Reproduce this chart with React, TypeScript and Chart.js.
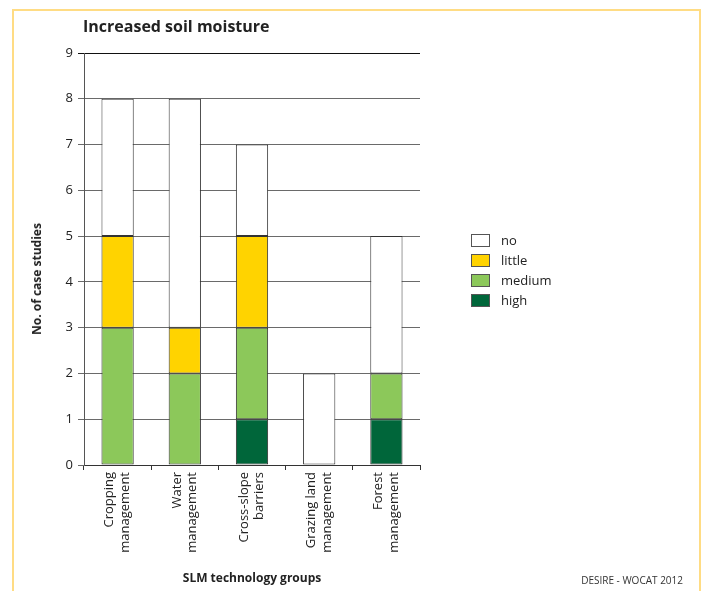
import React, { useEffect, useRef } from "react";
import { Chart, registerables } from "chart.js";

Chart.register(...registerables);

// ---- data ----
const categories: string[][] = [
  ["Cropping", "management"],
  ["Water", "management"],
  ["Cross-slope", "barriers"],
  ["Grazing land", "management"],
  ["Forest", "management"],
];
const seriesNames = ["high", "medium", "little", "no"];
const highValues = [0, 0, 1, 0, 1];
const mediumValues = [3, 2, 2, 0, 1];
const littleValues = [2, 1, 2, 0, 0];
const noValues = [3, 5, 2, 2, 3];
const seriesColors = ["#00663A", "#8CC85A", "#FFD300", "#FFFFFF"];
const yMax = 9;

const titleText = "Increased soil moisture";
const yTitle = "No. of case studies";
const xTitle = "SLM technology groups";
const sourceText = "DESIRE - WOCAT 2012";

const FONT = "'Open Sans', 'Noto Sans', sans-serif";

export default function App() {
  const ref = useRef<HTMLCanvasElement | null>(null);

  useEffect(() => {
    if (!ref.current) return;
    const values = [highValues, mediumValues, littleValues, noValues];
    const chart = new Chart(ref.current, {
      type: "bar",
      data: {
        labels: categories,
        datasets: seriesNames.map((name, i) => ({
          label: name,
          // zero-height segments are left out so they draw no border line
          data: values[i].map((v) => (v === 0 ? null : v)),
          backgroundColor: seriesColors[i],
          borderColor: "#333333",
          borderWidth: 1,
          borderSkipped: false,
          barPercentage: 0.48,
          categoryPercentage: 1,
        })),
      },
      options: {
        responsive: false,
        animation: false,
        layout: { padding: { left: 0, top: 53, right: 287, bottom: 0 } },
        plugins: {
          legend: { display: false },
          tooltip: { enabled: false },
          title: { display: false },
        },
        scales: {
          x: {
            stacked: true,
            offset: true,
            grid: {
              display: true,
              offset: true,
              drawOnChartArea: false,
              drawTicks: true,
              tickLength: 5,
              color: "#333333",
            },
            border: { display: true, color: "#333333", width: 1 },
            ticks: {
              maxRotation: 90,
              minRotation: 90,
              autoSkip: false,
              padding: 2,
              labelOffset: -8,
              color: "#222222",
              font: { family: FONT, size: 13, lineHeight: 1.2 },
            },
            title: {
              display: true,
              text: xTitle,
              color: "#222222",
              font: { family: FONT, size: 12, weight: "bold" },
              padding: { top: 4, bottom: 5 },
            },
            afterFit: (scale: any) => {
              scale.height = 126;
            },
          },
          y: {
            stacked: true,
            min: 0,
            max: yMax,
            ticks: {
              stepSize: 1,
              padding: 5,
              color: "#222222",
              font: { family: FONT, size: 13 },
            },
            grid: {
              color: (ctx: any) => (ctx.tick && ctx.tick.value === yMax ? "#111111" : "#6a6a6a"),
              lineWidth: 1,
              tickLength: 6,
              drawTicks: true,
            },
            border: { display: true, color: "#555555", width: 1 },
            afterFit: (scale: any) => {
              scale.width = 84;
            },
          },
        },
      },
    });
    return () => chart.destroy();
  }, []);

  const legendOrder = [3, 2, 1, 0];

  return (
    <div
      style={{
        position: "fixed",
        left: 0,
        top: 0,
        width: 707,
        height: 591,
        background: "#ffffff",
        overflow: "hidden",
        fontFamily: FONT,
      }}
    >
      <div
        style={{
          position: "absolute",
          left: 12,
          top: 9,
          width: 685,
          height: 620,
          borderTop: "2px solid #FFDC84",
          borderLeft: "2px solid #FFDC84",
          borderRight: "2px solid #FFDC84",
        }}
      />
      <canvas ref={ref} width={707} height={591} style={{ position: "absolute", left: 0, top: 0 }} />
      <div
        style={{
          position: "absolute",
          left: 83,
          top: 16,
          fontSize: 16,
          fontWeight: "bold",
          color: "#222222",
          whiteSpace: "nowrap",
          lineHeight: "20px",
        }}
      >
        {titleText}
      </div>
      <div
        style={{
          position: "absolute",
          left: 37,
          top: 279,
          transform: "translate(-50%, -50%) rotate(-90deg)",
          fontSize: 12,
          fontWeight: "bold",
          color: "#222222",
          whiteSpace: "nowrap",
          lineHeight: "14px",
        }}
      >
        {yTitle}
      </div>
      <div style={{ position: "absolute", left: 471, top: 230 }}>
        {legendOrder.map((i) => (
          <div key={seriesNames[i]} style={{ display: "flex", alignItems: "center", height: 20 }}>
            <div
              style={{
                width: 17,
                height: 11,
                background: seriesColors[i],
                border: "1px solid #555555",
                marginRight: 11,
              }}
            />
            <span style={{ fontSize: 13, color: "#222222", lineHeight: "20px" }}>{seriesNames[i]}</span>
          </div>
        ))}
      </div>
      <div
        style={{
          position: "absolute",
          right: 24,
          top: 573,
          fontSize: 10,
          color: "#333333",
          whiteSpace: "nowrap",
          lineHeight: "14px",
        }}
      >
        {sourceText}
      </div>
    </div>
  );
}
